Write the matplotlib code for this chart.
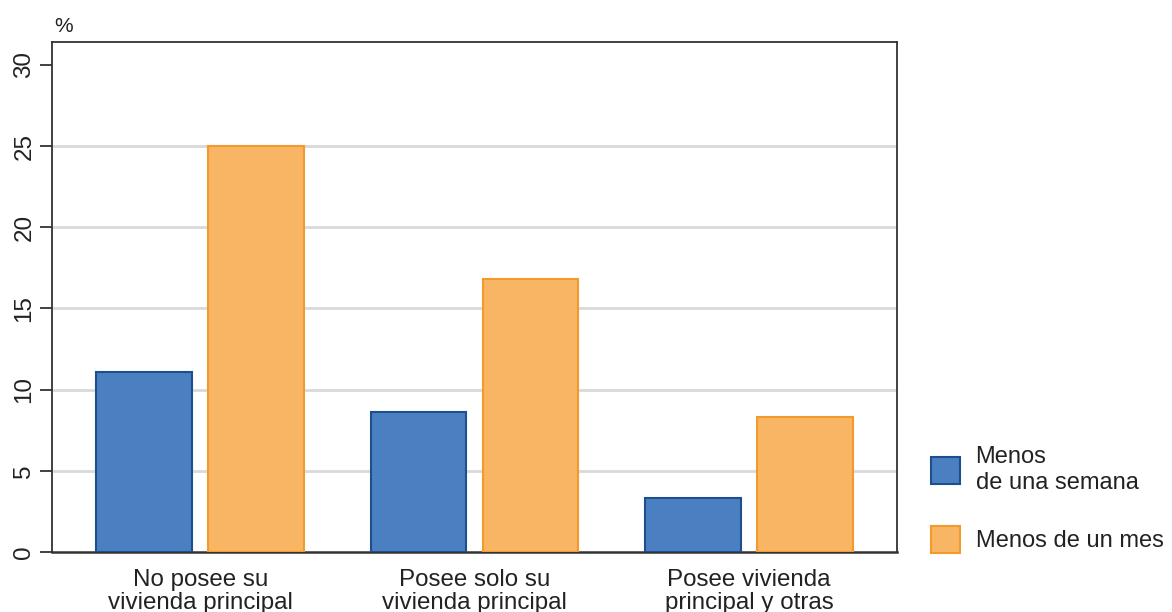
import matplotlib.pyplot as plt
import numpy as np
from matplotlib.patches import Patch

plt.rcParams['font.family'] = ['Liberation Sans', 'DejaVu Sans']

#data
categories = ["No posee su\nvivienda principal", "Posee solo su\nvivienda principal", "Posee vivienda\nprincipal y otras"]
menos_semana = [11.1, 8.6, 3.3]
menos_mes = [25.0, 16.8, 8.3]
series_labels = ["Menos\nde una semana", "Menos de un mes"]

blue, blue_edge = '#4A80C1', '#1F4E8F'
orange, orange_edge = '#F8B563', '#F39A2E'

fig = plt.figure(figsize=(11.72, 6.12), dpi=100)
ax = fig.add_axes([0.0444, 0.098, 0.721, 0.833])

x = np.arange(len(categories))
w = 0.349
off = 0.204
ax.bar(x - off, menos_semana, w, color=blue, edgecolor=blue_edge, linewidth=1.5, zorder=3)
ax.bar(x + off, menos_mes, w, color=orange, edgecolor=orange_edge, linewidth=1.5, zorder=3)

ax.set_xlim(-0.54, 2.54)
ax.set_ylim(0, 31.4)
ax.set_yticks([0, 5, 10, 15, 20, 25, 30])
ax.set_yticklabels(['0', '5', '10', '15', '20', '25', '30'], rotation=90, va='center')
ax.set_xticks(x)
ax.set_xticklabels(categories, fontsize=17.4, color='#222222', linespacing=1.05)
ax.tick_params(axis='x', length=0, pad=12)
ax.tick_params(axis='y', labelsize=17.4, length=9, width=1.3, colors='#333333', labelcolor='#222222', pad=3)

# gridlines only at 5..25
for yv in [5, 10, 15, 20, 25]:
    ax.axhline(yv, color='#D9D9D9', linewidth=2, zorder=1)
for s in ax.spines.values():
    s.set_color('#333333')
    s.set_linewidth(1.3)
ax.spines['bottom'].set_linewidth(1.8)

fig.text(0.046, 0.948, '%', fontsize=15, color='#222222')

handles = [Patch(facecolor=blue, edgecolor=blue_edge, linewidth=1.5),
           Patch(facecolor=orange, edgecolor=orange_edge, linewidth=1.5)]
fig.legend(handles, series_labels, loc='lower left', bbox_to_anchor=(0.776, 0.062),
           frameon=False, fontsize=17, handlelength=1.25, handleheight=1.4,
           labelspacing=1.35, handletextpad=0.65, labelcolor='#222222')

fig.savefig('out.png', dpi=100)
